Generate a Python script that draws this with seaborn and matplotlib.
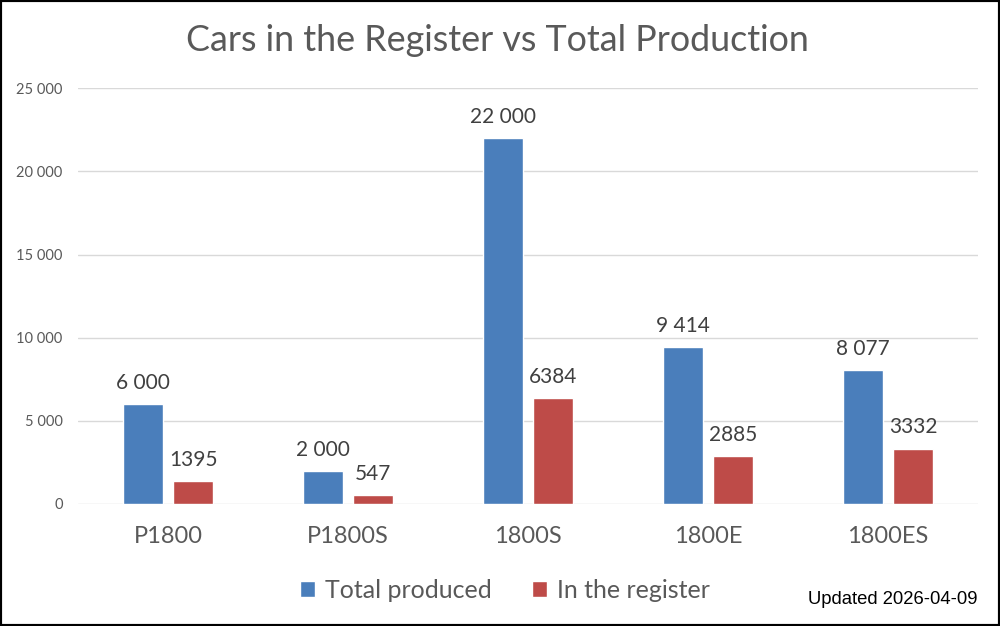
import matplotlib
matplotlib.use("Agg")
import matplotlib.pyplot as plt
import pandas as pd
import seaborn as sns

models = ["P1800", "P1800S", "1800S", "1800E", "1800ES"]
total_produced = [6000, 2000, 22000, 9414, 8077]
in_register = [1395, 547, 6384, 2885, 3332]
series = ["Total produced", "In the register"]
yticks = [0, 5000, 10000, 15000, 20000, 25000]


def fmt_space(v):
    return f"{v:,}".replace(",", " ")


def main():
    df = pd.DataFrame({
        "model": models * 2,
        "cars": total_produced + in_register,
        "series": [series[0]] * len(models) + [series[1]] * len(models),
    })

    sns.set_theme(style="white")
    plt.rcParams["font.family"] = ["Lato", "DejaVu Sans"]

    fig = plt.figure(figsize=(10, 6.26), dpi=100)
    ax = fig.add_axes([0.078, 0.195, 0.9, 0.664])

    sns.barplot(data=df, x="model", y="cars", hue="series", order=models,
                hue_order=series, palette=["#4a7ebb", "#be4b48"],
                width=0.56, gap=0.21, ax=ax, saturation=1, legend=True)

    # data labels
    for cont, fmt in zip(ax.containers, [fmt_space, str]):
        ax.bar_label(cont, labels=[fmt(int(v)) for v in cont.datavalues],
                     padding=8, fontsize=15, color="#404040")

    ax.set_ylim(0, 25000)
    ax.set_xlim(-0.5, 4.5)
    ax.set_yticks(yticks)
    ax.set_yticklabels([fmt_space(v) for v in yticks], fontsize=10.5, color="#595959")
    ax.tick_params(axis="y", pad=11, length=0)
    ax.tick_params(axis="x", pad=16, length=0, labelsize=17, labelcolor="#595959")
    ax.set_xlabel("")
    ax.set_ylabel("")
    ax.grid(axis="y", color="#d9d9d9", lw=1)
    ax.set_axisbelow(True)
    for s in ax.spines.values():
        s.set_visible(False)

    ax.legend(loc="lower center", bbox_to_anchor=(0.474, -0.29), ncol=2,
              frameon=False, fontsize=18, handlelength=0.6, handleheight=0.6,
              handletextpad=0.4, columnspacing=1.6, labelcolor="#595959")

    fig.text(0.497, 0.935, "Cars in the Register vs Total Production",
             ha="center", va="center", fontsize=25.8, color="#595959")
    fig.text(0.978, 0.042, "Updated 2026-04-09", ha="right", va="center",
             fontsize=13.3, color="black", family=["Liberation Sans", "DejaVu Sans"])

    # black frame round the picture
    fig.patches.append(plt.Rectangle((0, 0), 1, 1, transform=fig.transFigure,
                                     fill=False, ec="black", lw=3))

    fig.savefig("out.png", dpi=100)
    plt.close(fig)


if __name__ == "__main__":
    main()
